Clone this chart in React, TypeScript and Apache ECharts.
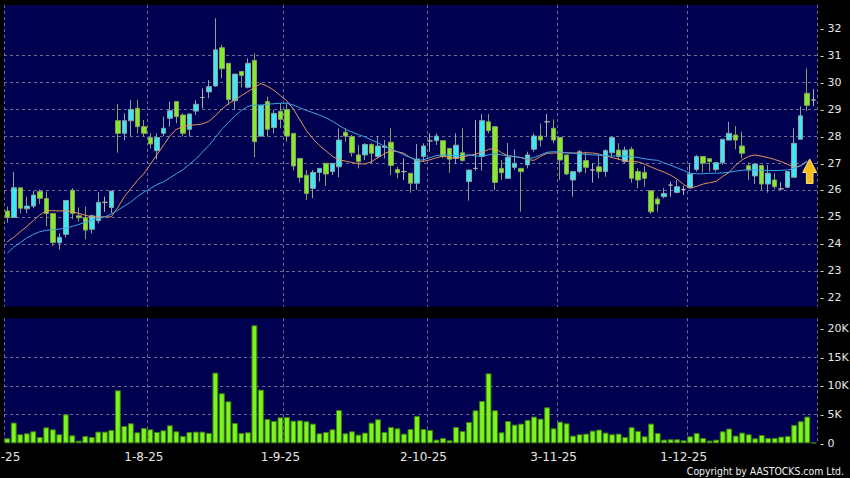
import React, { useEffect, useRef } from 'react';
import * as echarts from 'echarts';

// Trading days per month (2025)
const julyDays = [2, 3, 4, 7, 8, 9, 10, 11, 14, 15, 16, 17, 18, 21, 22, 23, 24, 25, 28, 29, 30, 31];
const augDays = [1, 4, 5, 6, 7, 8, 11, 12, 13, 14, 15, 18, 19, 20, 21, 22, 25, 26, 27, 28, 29];
const sepDays = [1, 2, 3, 4, 5, 8, 9, 10, 11, 12, 15, 16, 17, 18, 19, 22, 23, 24, 25, 26, 29, 30];
const octDays = [2, 3, 6, 8, 9, 10, 13, 14, 15, 16, 17, 20, 21, 22, 23, 24, 27, 28, 30, 31];
const novDays = [3, 4, 5, 6, 7, 10, 11, 12, 13, 14, 17, 18, 19, 20, 21, 24, 25, 26, 27, 28];
const decDays = [1, 2, 3, 4, 5, 8, 9, 10, 11, 12, 15, 16, 17, 18, 19, 22, 23, 24, 29, 30];

const openP = [
  25.22, 24.98, 26.08, 25.30, 25.40, 25.94, 25.68, 25.13, 24.04, 24.35,
  25.99, 25.04, 24.97, 24.54, 24.86, 25.54, 25.35, 28.57, 28.10, 28.57,
  29.03, 28.35, 27.95, 27.46, 28.10, 28.66, 29.28, 28.78, 28.25, 28.93,
  29.43, 29.64, 29.86, 31.28, 30.70, 29.31, 30.40, 29.81, 30.81, 28.00,
  29.28, 28.32, 28.92, 28.99, 28.10, 27.17, 26.55, 26.06, 26.65, 26.99,
  26.68, 26.86, 28.14, 27.98, 27.30, 27.30, 27.69, 27.24, 27.58, 27.77,
  26.76, 26.68, 26.62, 26.25, 27.24, 27.82, 27.83, 27.83, 27.54, 27.17,
  27.38, 26.31, 26.80, 27.24, 28.53, 28.35, 26.80, 26.43, 26.84, 26.80,
  26.93, 27.51, 28.00, 28.53, 28.29, 27.95, 27.30, 26.37, 26.68, 27.09,
  26.74, 26.86, 26.68, 27.38, 27.48, 27.05, 27.51, 26.68, 26.65, 25.97,
  25.66, 25.75, 26.18, 25.91, 26.02, 26.08, 26.76, 27.24, 27.16, 26.76,
  27.01, 27.85, 28.04, 27.63, 26.90, 26.52, 26.91, 26.22, 26.37, 26.04,
  26.10, 26.47, 27.88, 29.59, 29.34,
];
const closeP = [
  24.98, 26.08, 25.32, 25.40, 25.81, 25.69, 25.13, 24.05, 24.24, 25.61,
  25.13, 24.97, 24.51, 25.04, 25.54, 25.54, 25.96, 28.10, 28.57, 28.99,
  28.35, 28.10, 27.71, 27.95, 28.29, 28.94, 28.72, 28.10, 28.82, 29.18,
  29.43, 29.83, 31.20, 30.50, 29.36, 30.30, 30.25, 30.70, 27.79, 29.14,
  28.25, 28.84, 28.62, 28.00, 26.89, 26.46, 25.87, 26.65, 26.80, 26.59,
  26.99, 27.85, 28.00, 27.38, 27.05, 27.69, 27.36, 27.63, 27.63, 26.91,
  26.64, 26.68, 26.25, 27.15, 27.63, 27.82, 28.00, 27.24, 27.14, 27.66,
  27.09, 26.74, 26.80, 28.57, 28.20, 26.28, 26.64, 27.21, 26.99, 26.68,
  27.30, 28.00, 27.85, 28.53, 27.85, 27.11, 26.59, 26.68, 27.42, 26.84,
  26.74, 26.68, 27.46, 27.95, 27.24, 27.48, 26.43, 26.37, 26.43, 25.19,
  25.48, 25.87, 26.18, 26.12, 26.02, 26.59, 27.24, 26.99, 27.05, 27.01,
  27.88, 28.10, 27.85, 27.36, 26.74, 26.96, 26.22, 26.62, 26.12, 26.04,
  26.68, 27.73, 28.75, 29.14, 29.34,
];
const lowP = [
  24.78, 24.98, 25.13, 25.13, 25.32, 25.48, 24.66, 23.93, 23.79, 24.24,
  24.92, 24.82, 24.17, 24.39, 24.76, 25.19, 25.13, 27.38, 27.85, 27.98,
  28.10, 27.98, 27.54, 27.14, 28.00, 28.35, 28.47, 27.98, 27.98, 28.78,
  29.03, 29.40, 29.83, 30.14, 29.15, 28.97, 29.81, 29.77, 27.21, 27.98,
  27.98, 28.10, 28.29, 27.79, 26.72, 26.27, 25.63, 25.69, 26.31, 26.15,
  26.55, 26.47, 27.79, 27.24, 26.80, 27.11, 26.96, 27.17, 27.17, 26.55,
  26.43, 26.37, 25.90, 26.00, 27.05, 27.42, 27.67, 27.17, 26.64, 26.96,
  27.05, 25.60, 26.72, 26.72, 28.10, 26.00, 26.37, 26.43, 26.74, 25.19,
  26.80, 27.42, 27.61, 27.98, 27.73, 26.37, 26.55, 25.75, 26.62, 26.62,
  26.27, 26.43, 26.49, 27.24, 27.11, 26.99, 26.27, 26.06, 26.12, 25.11,
  25.19, 25.69, 25.75, 25.87, 25.81, 26.06, 26.68, 26.65, 26.68, 26.68,
  26.93, 27.85, 27.51, 27.17, 26.37, 26.22, 26.00, 25.90, 26.02, 26.00,
  26.06, 26.47, 27.88, 28.94, 29.12,
];
const highP = [
  25.38, 26.67, 26.08, 25.75, 25.97, 26.02, 25.94, 25.13, 24.39, 25.61,
  26.06, 25.35, 25.38, 25.09, 25.92, 25.75, 25.96, 29.19, 28.84, 29.34,
  29.34, 28.60, 28.10, 28.10, 28.72, 29.28, 29.28, 28.84, 28.82, 29.34,
  29.77, 30.08, 32.37, 31.38, 30.70, 30.30, 30.40, 30.89, 31.07, 29.14,
  29.46, 28.97, 29.22, 29.22, 28.10, 27.17, 26.74, 26.74, 26.80, 26.99,
  26.99, 28.29, 28.29, 28.04, 27.67, 27.73, 27.73, 28.00, 27.85, 28.29,
  26.86, 27.17, 26.62, 27.71, 27.73, 28.10, 28.10, 27.83, 27.54, 28.10,
  28.29, 26.74, 28.60, 28.82, 28.82, 28.35, 27.11, 27.75, 27.51, 26.80,
  27.42, 28.10, 28.47, 28.82, 28.62, 27.95, 27.30, 26.68, 27.48, 27.42,
  26.99, 27.30, 27.51, 27.95, 27.73, 27.61, 27.61, 26.80, 26.89, 25.97,
  25.75, 26.06, 26.31, 26.37, 26.15, 26.96, 27.30, 27.24, 27.16, 27.05,
  27.88, 28.53, 28.37, 28.16, 27.02, 26.99, 26.91, 26.93, 26.62, 26.28,
  26.68, 28.29, 29.10, 30.51, 29.74,
];

// Volume in thousands of shares
const volumeK = [
  0.87, 3.6, 1.57, 1.74, 2.09, 1.10, 2.78, 2.43, 1.57, 5.04,
  1.39, 0.46, 1.28, 1.10, 2.03, 2.03, 2.32, 9.22, 3.01, 3.48,
  1.91, 2.67, 2.43, 1.97, 2.26, 3.13, 2.09, 1.28, 1.97, 2.03,
  2.03, 1.80, 12.29, 8.70, 7.30, 3.54, 1.80, 1.91, 20.52, 9.33,
  4.23, 3.88, 4.52, 4.58, 3.94, 4.0, 3.83, 3.42, 1.74, 1.97,
  2.43, 5.80, 1.74, 2.09, 1.51, 1.86, 3.59, 4.17, 1.97, 2.84,
  2.61, 1.68, 2.49, 4.75, 2.49, 2.32, 0.64, 0.93, 0.52, 2.84,
  2.14, 3.71, 5.74, 7.36, 12.17, 5.74, 1.91, 3.88, 3.25, 3.42,
  4.06, 4.64, 4.29, 6.26, 2.61, 3.77, 3.48, 1.33, 1.57, 1.68,
  2.20, 2.38, 1.86, 1.57, 1.68, 1.10, 2.8, 2.15, 1.22, 3.43,
  1.80, 0.64, 0.70, 0.70, 0.52, 1.22, 1.80, 0.93, 0.47, 0.64,
  2.09, 2.56, 1.34, 1.86, 1.57, 0.87, 1.45, 0.93, 0.93, 1.16,
  1.28, 3.20, 3.84, 4.65, 0.12,
];

const ma10 = [
  24.08, 24.24, 24.45, 24.64, 24.86, 25.07, 25.23, 25.23, 25.22, 25.23,
  25.19, 25.13, 25.06, 25.0, 25.0, 25.0, 25.0, 25.35, 25.75, 26.05,
  26.35, 26.6, 26.95, 27.3, 27.65, 28.0, 28.25, 28.35, 28.4, 28.42,
  28.45, 28.55, 28.75, 29.0, 29.2, 29.35, 29.5, 29.65, 29.8, 29.95,
  29.85, 29.7, 29.5, 29.3, 29.0, 28.6, 28.2, 27.9, 27.65, 27.45,
  27.25, 27.12, 27.07, 27.02, 26.97, 26.96, 27.05, 27.2, 27.35, 27.45,
  27.42, 27.36, 27.2, 27.08, 27.06, 27.12, 27.2, 27.25, 27.2, 27.18,
  27.22, 27.28, 27.33, 27.4, 27.5, 27.55, 27.38, 27.27, 27.24, 27.2,
  27.12, 27.1, 27.25, 27.36, 27.37, 27.38, 27.38, 27.37, 27.37, 27.38,
  27.37, 27.33, 27.26, 27.2, 27.14, 27.08, 27.06, 27.04, 26.96, 26.85,
  26.75, 26.66, 26.55, 26.4, 26.2, 26.07, 26.13, 26.22, 26.27, 26.32,
  26.5, 26.65, 26.92, 27.12, 27.25, 27.3, 27.25, 27.2, 27.13, 27.05,
  26.95, 26.85, 26.9, 27.05, null,
];
const ma20 = [
  23.65, 23.88, 24.05, 24.22, 24.35, 24.45, 24.5, 24.52, 24.55, 24.58,
  24.65, 24.72, 24.8, 24.88, 24.95, 25.0, 25.1, 25.25, 25.4, 25.55,
  25.75, 25.92, 26.05, 26.2, 26.3, 26.45, 26.6, 26.75, 26.95, 27.15,
  27.4, 27.65, 27.95, 28.25, 28.5, 28.75, 28.95, 29.1, 29.15, 29.15,
  29.18, 29.2, 29.22, 29.22, 29.15, 29.05, 28.95, 28.87, 28.78, 28.68,
  28.55, 28.4, 28.25, 28.15, 28.05, 27.97, 27.85, 27.75, 27.62, 27.52,
  27.42, 27.3, 27.2, 27.1, 27.12, 27.2, 27.28, 27.3, 27.29, 27.27,
  27.28, 27.3, 27.26, 27.25, 27.3, 27.35, 27.3, 27.26, 27.24, 27.2,
  27.15, 27.2, 27.3, 27.4, 27.42, 27.41, 27.38, 27.36, 27.34, 27.32,
  27.3, 27.29, 27.27, 27.26, 27.26, 27.25, 27.24, 27.2, 27.16, 27.12,
  27.1, 27.0, 26.92, 26.82, 26.72, 26.62, 26.6, 26.6, 26.62, 26.62,
  26.63, 26.66, 26.7, 26.73, 26.75, 26.74, 26.73, 26.72, 26.72, 26.73,
  26.74, 26.8, 26.9, 27.08, null,
];

const priceTicks = [22, 23, 24, 25, 26, 27, 28, 29, 30, 31, 32];
const volumeTicks = [0, 5, 10, 15, 20];

const monthList: [number, number[]][] = [
  [7, julyDays], [8, augDays], [9, sepDays], [10, octDays], [11, novDays], [12, decDays],
];

export default function App() {
  const ref = useRef<HTMLDivElement>(null);

  useEffect(() => {
    document.body.style.margin = '0';
    document.body.style.background = '#000';
    if (!ref.current) return;

    const dates: string[] = [];
    const monthStart = new Set<number>();
    monthList.forEach(([m, days]) => {
      days.forEach((d, k) => {
        if (k === 0) monthStart.add(dates.length);
        dates.push(`${d}-${m}-25`);
      });
    });

    const candleData = openP.map((o, i) => [o, closeP[i], lowP[i], highP[i]]);

    const gridLine = { color: '#6c6c94', type: [3, 3] as number[], width: 1 };
    const labelColor = '#e6e6e6';

    const chart = echarts.init(ref.current, undefined, { renderer: 'svg' });
    chart.setOption({
      animation: false,
      backgroundColor: '#000000',
      textStyle: { fontFamily: 'DejaVu Sans' },
      grid: [
        { left: 4, right: 33, top: 5, height: 301.7, show: true, backgroundColor: '#000050', borderWidth: 0, containLabel: false, outerBoundsMode: 'none' },
        { left: 4, right: 33, top: 318.3, height: 125, show: true, backgroundColor: '#000050', borderWidth: 0, containLabel: false, outerBoundsMode: 'none' },
      ],
      xAxis: [
        {
          type: 'category', gridIndex: 0, data: dates, boundaryGap: true,
          axisLine: { show: false }, axisTick: { show: false }, axisLabel: { show: false },
          splitLine: { show: true, interval: (i: number) => monthStart.has(i), lineStyle: gridLine },
        },
        {
          type: 'category', gridIndex: 1, data: dates, boundaryGap: true,
          axisLine: { show: false }, axisTick: { show: false },
          axisLabel: {
            show: true, interval: (i: number) => monthStart.has(i), margin: 8,
            formatter: (v: string) => `{a|${v}}`,
            rich: { a: { padding: [0, 13, 0, 0], color: labelColor, fontSize: 12, fontFamily: 'DejaVu Sans' } },
          },
          splitLine: { show: true, interval: (i: number) => monthStart.has(i), lineStyle: gridLine },
        },
      ],
      yAxis: [
        {
          type: 'value', gridIndex: 0, position: 'right', min: 21.666, max: 32.865, scale: true,
          axisLine: { show: false },
          axisTick: { show: false, customValues: priceTicks },
          axisLabel: { customValues: priceTicks, formatter: '- {value}', margin: 3, color: labelColor, fontSize: 11 },
          splitLine: { show: true, customValues: priceTicks, showMinLine: false, showMaxLine: false, lineStyle: gridLine },
        },
        {
          type: 'value', gridIndex: 1, position: 'right', min: 0, max: 21.74,
          axisLine: { show: false },
          axisTick: { show: false, customValues: volumeTicks },
          axisLabel: {
            customValues: volumeTicks, margin: 3, color: labelColor, fontSize: 11,
            formatter: (v: number) => (v === 0 ? '- 0' : `- ${v}K`),
          },
          splitLine: { show: true, customValues: volumeTicks, showMinLine: false, showMaxLine: false, lineStyle: gridLine },
        },
      ],
      series: [
        {
          type: 'candlestick', xAxisIndex: 0, yAxisIndex: 0, data: candleData, barWidth: 5,
          itemStyle: {
            color: '#3ee8f2', color0: '#84ea2a',
            borderColor: '#8aa4a4', borderColor0: '#86a260', borderColorDoji: '#b0b0b0', borderWidth: 1,
          },
          z: 3,
        },
        {
          type: 'line', xAxisIndex: 0, yAxisIndex: 0, data: ma10, symbol: 'none', smooth: false,
          lineStyle: { color: '#e8905a', width: 1 }, z: 4,
        },
        {
          type: 'line', xAxisIndex: 0, yAxisIndex: 0, data: ma20, symbol: 'none', smooth: false,
          lineStyle: { color: '#3aa6e6', width: 1 }, z: 4,
        },
        {
          type: 'bar', xAxisIndex: 1, yAxisIndex: 1, data: volumeK, barCategoryGap: '10%',
          itemStyle: { color: '#7cf41e', borderColor: '#3f8010', borderWidth: 1 },
        },
      ],
      graphic: [
        {
          type: 'polygon', z: 10,
          shape: { points: [[809.7, 159], [816.7, 172.5], [813, 172.5], [813, 183.5], [806.4, 183.5], [806.4, 172.5], [802.7, 172.5]] },
          style: { fill: '#f3bd1c', stroke: '#ffe27a', lineWidth: 1 },
        },
        {
          type: 'text', x: 844, y: 471.7, scaleX: 0.85, z: 10,
          style: { text: 'Copyright by AASTOCKS.com Ltd.', fill: '#f0f0f0', font: '11px "DejaVu Sans"', textAlign: 'right', textVerticalAlign: 'middle' },
        },
      ],
    });

    return () => chart.dispose();
  }, []);

  return <div ref={ref} style={{ width: 850, height: 478, position: 'absolute', left: 0, top: 0 }} />;
}
